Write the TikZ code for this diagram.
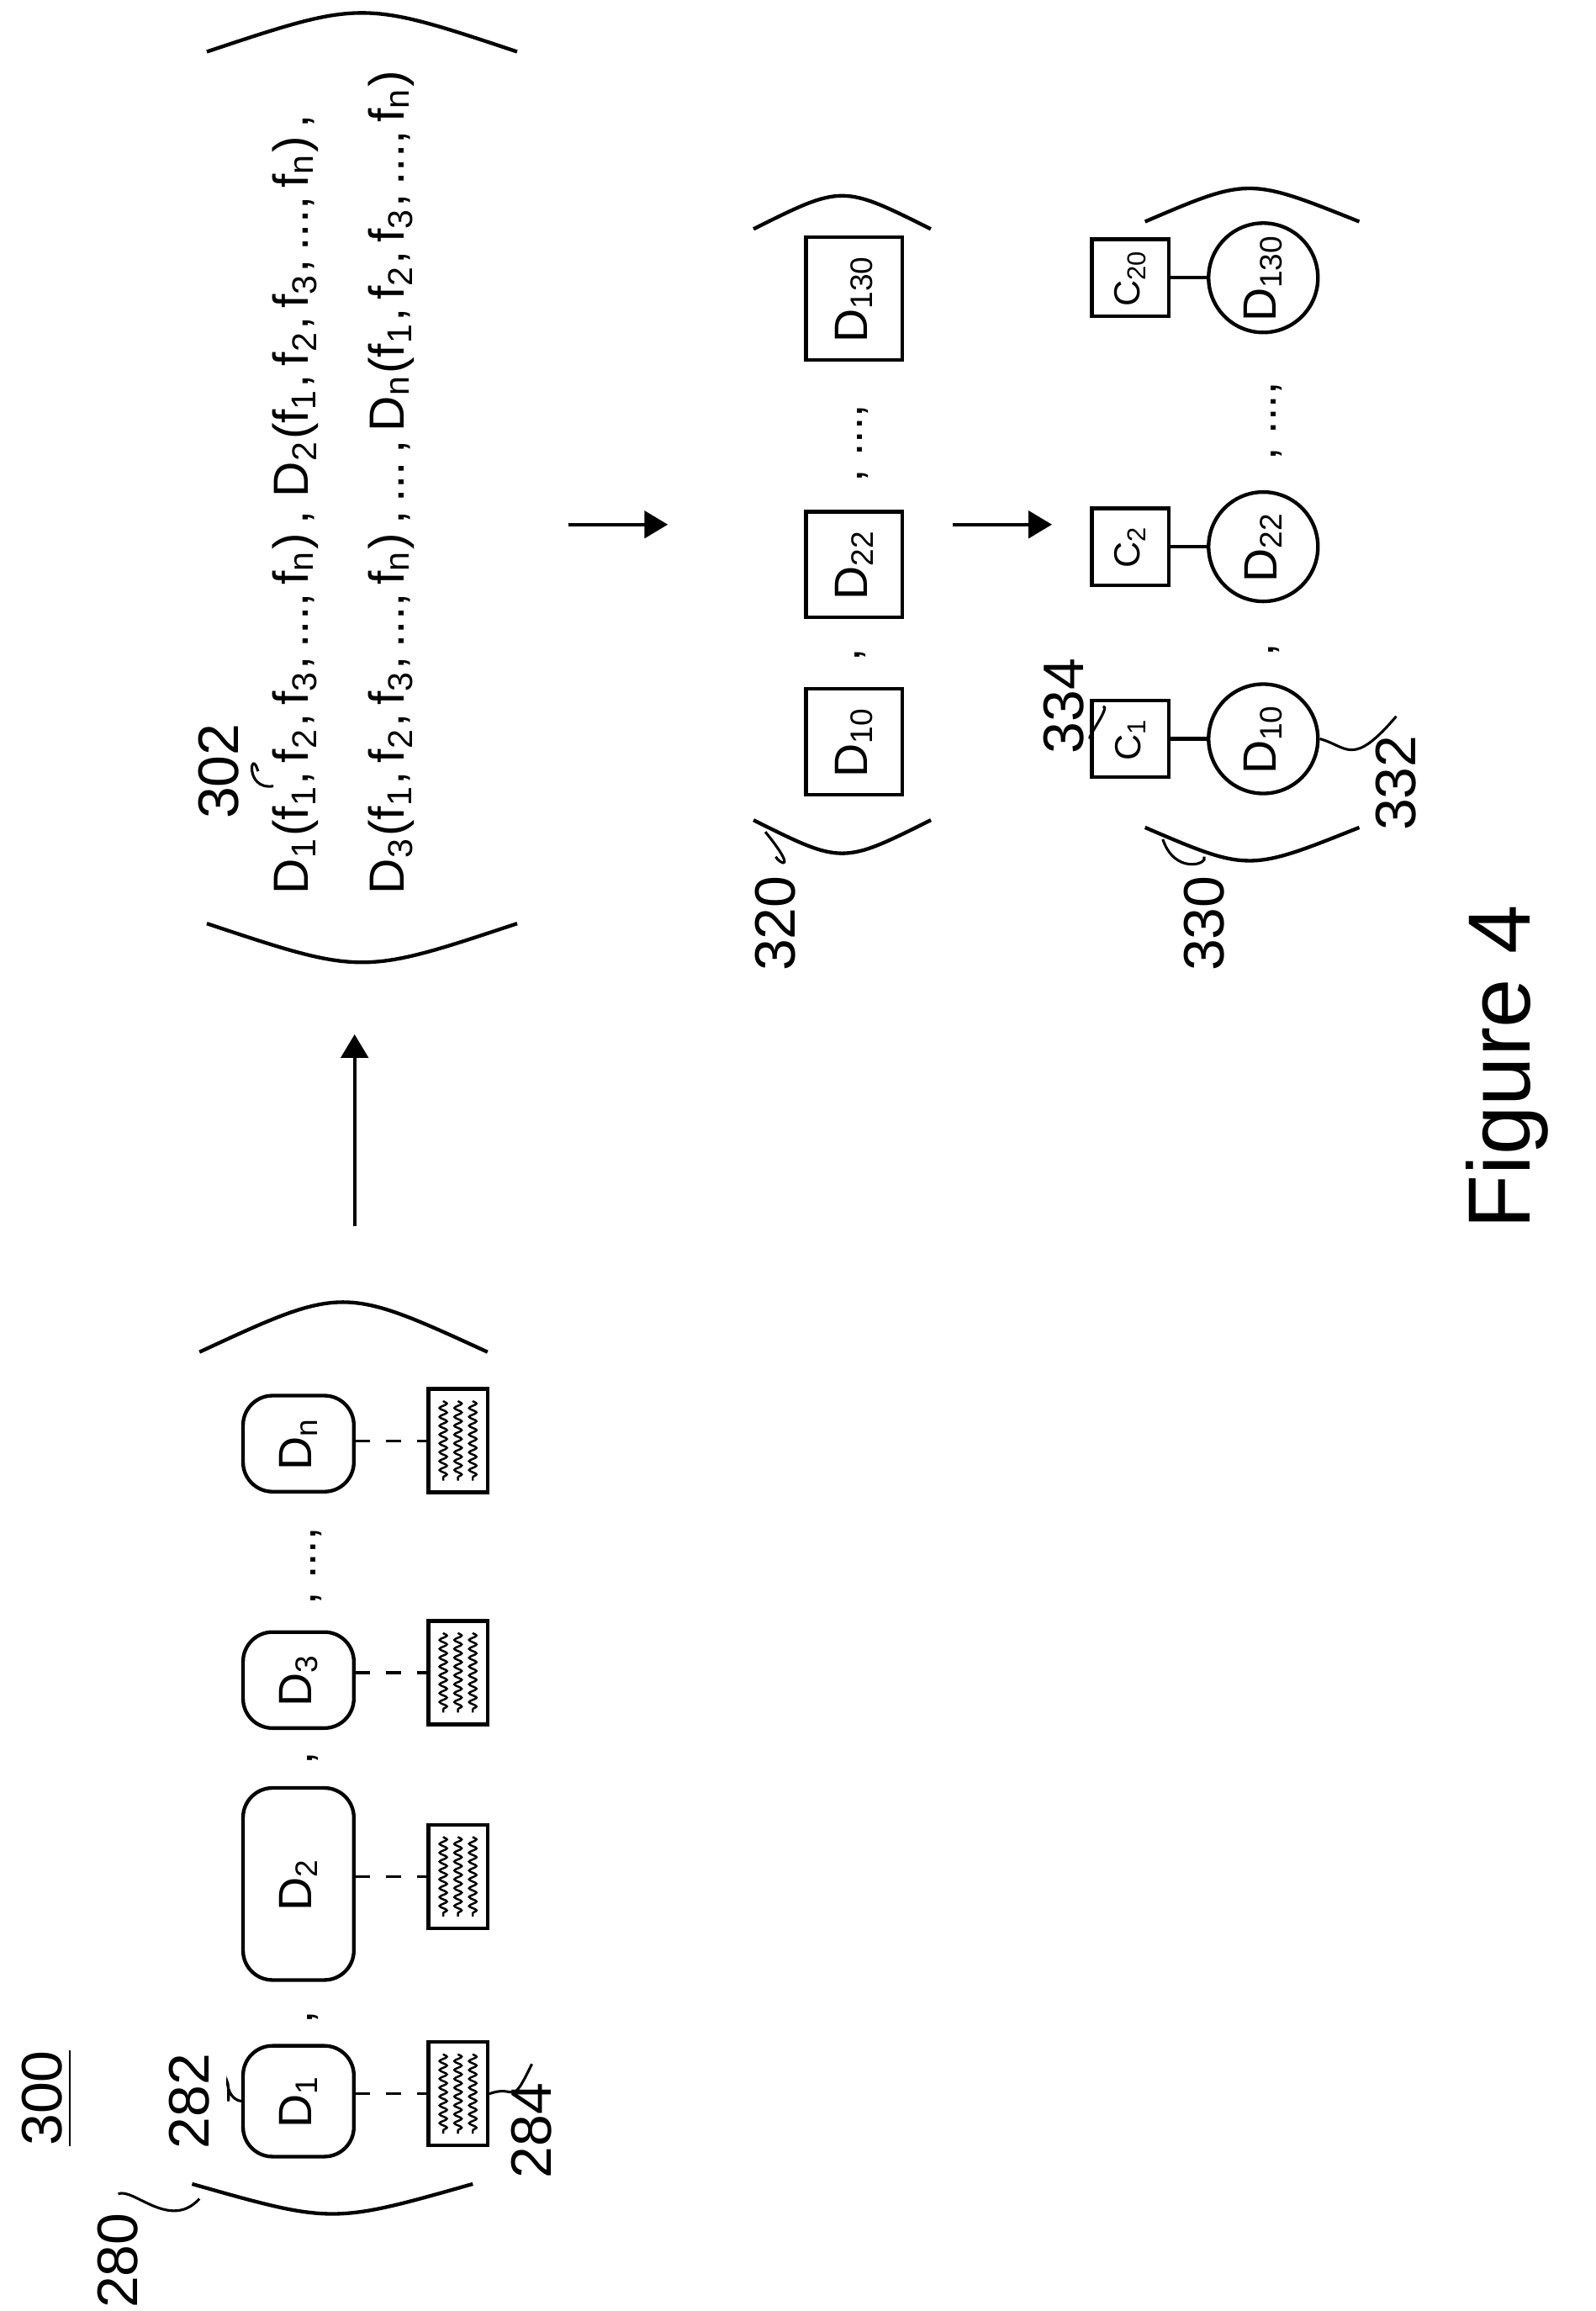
\documentclass[tikz,border=0pt]{standalone}
\usepackage{fontspec}
\setmainfont{Liberation Sans}
\usetikzlibrary{decorations.pathmorphing,arrows.meta}
\tikzset{>=Triangle}
\newcommand{\sub}[1]{\textsubscript{#1}}
\newcommand{\fvec}[1]{D\sub{#1}(f\sub{1},\,f\sub{2},\,f\sub{3},\,...,\,f\sub{n})}

\begin{document}
\begin{tikzpicture}[x=0.1mm,y=-0.1mm,line width=0.7pt,
dnode/.style={rectangle, rounded corners=2mm, draw=black, rotate=90, font=\small},
tnode/.style={rectangle, draw=black, rotate=90, minimum width=7mm, minimum height=4mm},
snode/.style={rectangle, draw=black, rotate=90, minimum size=6.5mm, font=\small},
cnode/.style={rectangle, draw=black, rotate=90, minimum size=3mm, inner sep=0pt, font=\scriptsize},
rnode/.style={circle, draw=black, rotate=90, minimum size=7.4mm, inner sep=0pt, font=\small},
lbl/.style={rotate=90, font=\fontsize{11}{13}\selectfont},
sep/.style={rotate=90, font=\small},
]
\useasboundingbox (0,0) rectangle (1080,1564);

%Title
\node[lbl](Fig) at (32,1420){\underline{300}};

%Input group
\node[dnode, minimum width=7.5mm, minimum height=7.5mm](D1) at (202,1422){D\sub{1}};
\node[dnode, minimum width=13mm, minimum height=7.5mm](D2) at (202,1275){D\sub{2}};
\node[dnode, minimum width=6.5mm, minimum height=7.5mm](D3) at (202,1137){D\sub{3}};
\node[dnode, minimum width=6.5mm, minimum height=7.5mm](Dn) at (202,977){D\sub{n}};
\node[tnode](T1) at (310,1417){};
\node[tnode](T2) at (310,1270){};
\node[tnode](T3) at (310,1132){};
\node[tnode](Tn) at (310,975){};
\foreach \t in {T1,T2,T3,Tn}{
  \draw[dashed,line width=0.5pt] (\t.center) ++(-70,0) -- ++(50,0);
  \foreach \dx in {-10,0,10}
    \draw[line width=0.4pt, decorate, decoration={snake, amplitude=0.25mm, segment length=0.6mm}]
      (\t.center) ++(\dx,-27) -- ++(0,54);
}
\node[sep](c1) at (212,1365){,};
\node[sep](c2) at (212,1190){,};
\node[sep](c3) at (214,1060){, ..., };
\draw (130,1478) .. controls (225,1505) .. (320,1478);
\draw (135,915) .. controls (232,870) .. (330,915);
\node[lbl](L280) at (80,1530){280};
\draw[line width=0.5pt] (L280.east) .. controls (90,1480) and (115,1510) .. (135,1488);
\node[lbl](L282) at (128,1422){282};
\draw[line width=0.5pt] (L282.south) .. controls (155,1395) and (150,1420) .. (D1.north);
\node[lbl](L284) at (360,1442){284};
\draw[line width=0.5pt] (T1.south) .. controls (350,1410) and (345,1428) .. (L284.east);

%Arrow 1
\coordinate (a1s) at (240,830);
\coordinate (a1e) at (240,700);
\draw[->] (a1s) -- (a1e);

%Feature vectors
\draw (140,625) .. controls (245,660) .. (350,625);
\draw (140,35) .. controls (245,0) .. (350,35);
\node[rotate=90, font=\fontsize{9.5}{11}\selectfont, anchor=west](F1) at (200,618)
  {\fvec{1}\,,\;\fvec{2}\,,};
\node[rotate=90, font=\fontsize{9.5}{11}\selectfont, anchor=west](F2) at (265,618)
  {\fvec{3}\,,\,...\,,\,\fvec{n}};
\node[lbl](L302) at (148,522){302};
\draw[line width=0.5pt] (L302.south) .. controls (170,505) and (165,535) .. (185,532);

%Arrow 2
\coordinate (a2s) at (385,355);
\coordinate (a2e) at (452,355);
\draw[->] (a2s) -- (a2e);

%Selected group
\draw (510,555) .. controls (570,585) .. (630,555);
\draw (510,155) .. controls (570,125) .. (630,155);
\node[snode](S10) at (578,502){D\sub{10}};
\node[snode](S22) at (578,382){D\sub{22}};
\node[snode](S130) at (578,202){D\sub{130}};
\node[sep](c4) at (582,443){,};
\node[sep](c5) at (584,300){, ..., };
\node[lbl](L320) at (525,625){320};
\draw[line width=0.5pt] (L320.east) .. controls (528,585) and (540,590) .. (518,563);

%Arrow 3
\coordinate (a3s) at (645,355);
\coordinate (a3e) at (712,355);
\draw[->] (a3s) -- (a3e);

%Clustered group
\draw (775,560) .. controls (845,590) .. (920,560);
\draw (775,150) .. controls (845,120) .. (920,150);
\node[cnode, minimum size=5.2mm](C1) at (765,500){C\sub{1}};
\node[cnode, minimum size=5.2mm](C2) at (765,370){C\sub{2}};
\node[cnode, minimum size=5.2mm](C20) at (765,188){C\sub{20}};
\node[rnode](R10) at (855,500){D\sub{10}};
\node[rnode](R22) at (855,370){D\sub{22}};
\node[rnode](R130) at (855,188){D\sub{130}};
\draw (C1) -- (R10);
\draw (C2) -- (R22);
\draw (C20) -- (R130);
\node[sep](c6) at (862,440){,};
\node[sep](c7) at (864,285){, ..., };
\node[lbl](L334) at (720,478){334};
\draw[line width=0.5pt] (L334.south) .. controls (752,478) and (735,500) .. (C1.north);
\node[lbl](L332) at (945,530){332};
\draw[line width=0.5pt] (R10.south) .. controls (912,505) and (915,520) .. (L332.east);
\node[lbl](L330) at (815,625){330};
\draw[line width=0.5pt] (L330.east) .. controls (818,585) and (795,592) .. (787,568);

%Caption
\node[rotate=90, font=\fontsize{17}{20}\selectfont](Cap) at (1020,722){Figure 4};
\end{tikzpicture}
\end{document}
